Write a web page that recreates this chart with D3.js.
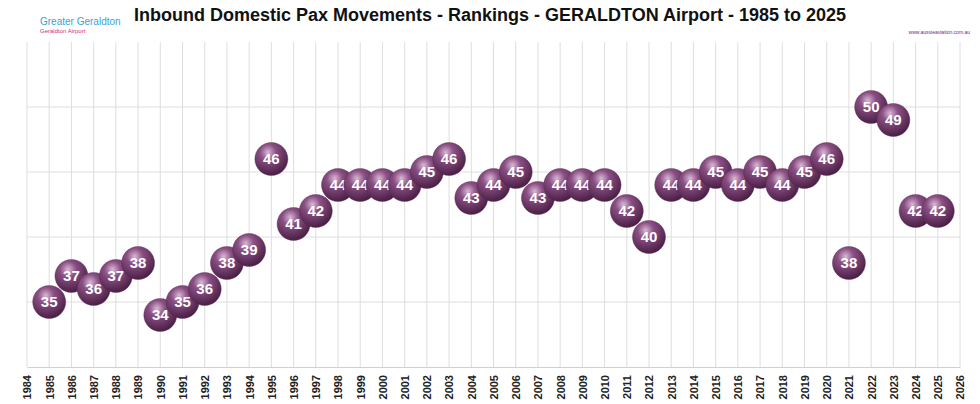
<!DOCTYPE html>
<html><head><meta charset="utf-8">
<script src="https://cdn.jsdelivr.net/npm/d3@7"></script>
<style>body{margin:0;background:#fff}</style></head>
<body><svg id="c" width="980" height="404"></svg>
<script>
const years = d3.range(1985, 2026);
const ranks = [35,37,36,37,38,34,35,36,38,39,46,41,42,44,44,44,44,45,46,43,44,45,43,44,44,44,42,40,44,44,45,44,45,44,45,46,38,50,49,42,42];
const yTicks = [35, 40, 45, 50];

const svg = d3.select("#c");
const x = d3.scaleLinear().domain([1984, 2026]).range([27, 960]);
const y = d3.scaleLinear().domain([30, 55]).range([367, 42]);

// bubble gradient
const g = svg.append("defs").append("radialGradient").attr("id", "bub")
  .attr("cx", "40%").attr("cy", "30%").attr("r", "70%");
g.append("stop").attr("offset", "0%").attr("stop-color", "#d9b8d4");
g.append("stop").attr("offset", "35%").attr("stop-color", "#8a4f83");
g.append("stop").attr("offset", "100%").attr("stop-color", "#4a1f45");

svg.append("text").attr("x", 490).attr("y", 21).attr("text-anchor", "middle")
  .attr("font-family", "Liberation Sans, Arial").attr("font-weight", 700).attr("font-size", 18)
  .attr("fill", "#111").text("Inbound Domestic Pax Movements - Rankings - GERALDTON Airport - 1985 to 2025");

// logo text
svg.append("text").attr("x", 40).attr("y", 25).attr("font-family", "Liberation Sans, Arial")
  .attr("font-size", 10).attr("fill", "#3a9fd8").text("Greater Geraldton");
svg.append("text").attr("x", 40).attr("y", 33).attr("font-family", "Liberation Sans, Arial")
  .attr("font-size", 6).attr("fill", "#d0307a").text("Geraldton Airport");
svg.append("text").attr("x", 970).attr("y", 34).attr("text-anchor", "end").attr("font-family", "Liberation Sans, Arial")
  .attr("font-size", 5).attr("fill", "#6a2a8a").text("www.aussieaviation.com.au");

const grid = svg.append("g").attr("stroke", "#dedede").attr("stroke-width", 1);
grid.selectAll(".v").data(d3.range(1984, 2027)).join("line")
  .attr("x1", d => x(d)).attr("x2", d => x(d)).attr("y1", 42).attr("y2", 367);
grid.selectAll(".h").data(yTicks).join("line")
  .attr("x1", 27).attr("x2", 960).attr("y1", d => y(d)).attr("y2", d => y(d));

const xa = svg.append("g").attr("transform", "translate(0,367)")
  .call(d3.axisBottom(x).tickValues(d3.range(1984, 2027)).tickFormat(d3.format("d")).tickSize(0));
xa.select(".domain").attr("stroke", "#d0d0d0");
xa.selectAll("text").attr("transform", "rotate(-90)").attr("text-anchor", "end")
  .attr("x", -8).attr("y", 0).attr("dy", "0.35em")
  .attr("font-family", "Liberation Sans, Arial").attr("font-weight", 700).attr("font-size", 11).attr("fill", "#222");

const pts = svg.append("g").selectAll("g").data(years.map((yr, i) => ({yr, r: ranks[i]}))).join("g")
  .attr("transform", d => `translate(${x(d.yr)},${y(d.r)})`);
pts.append("circle").attr("r", 16.5).attr("fill", "url(#bub)").attr("stroke", "#5a2a55").attr("stroke-opacity", 0.4);
pts.append("text").attr("text-anchor", "middle").attr("dy", "0.36em")
  .attr("font-family", "Liberation Sans, Arial").attr("font-weight", 700).attr("font-size", 15)
  .attr("fill", "#fff").text(d => d.r);
</script></body></html>
